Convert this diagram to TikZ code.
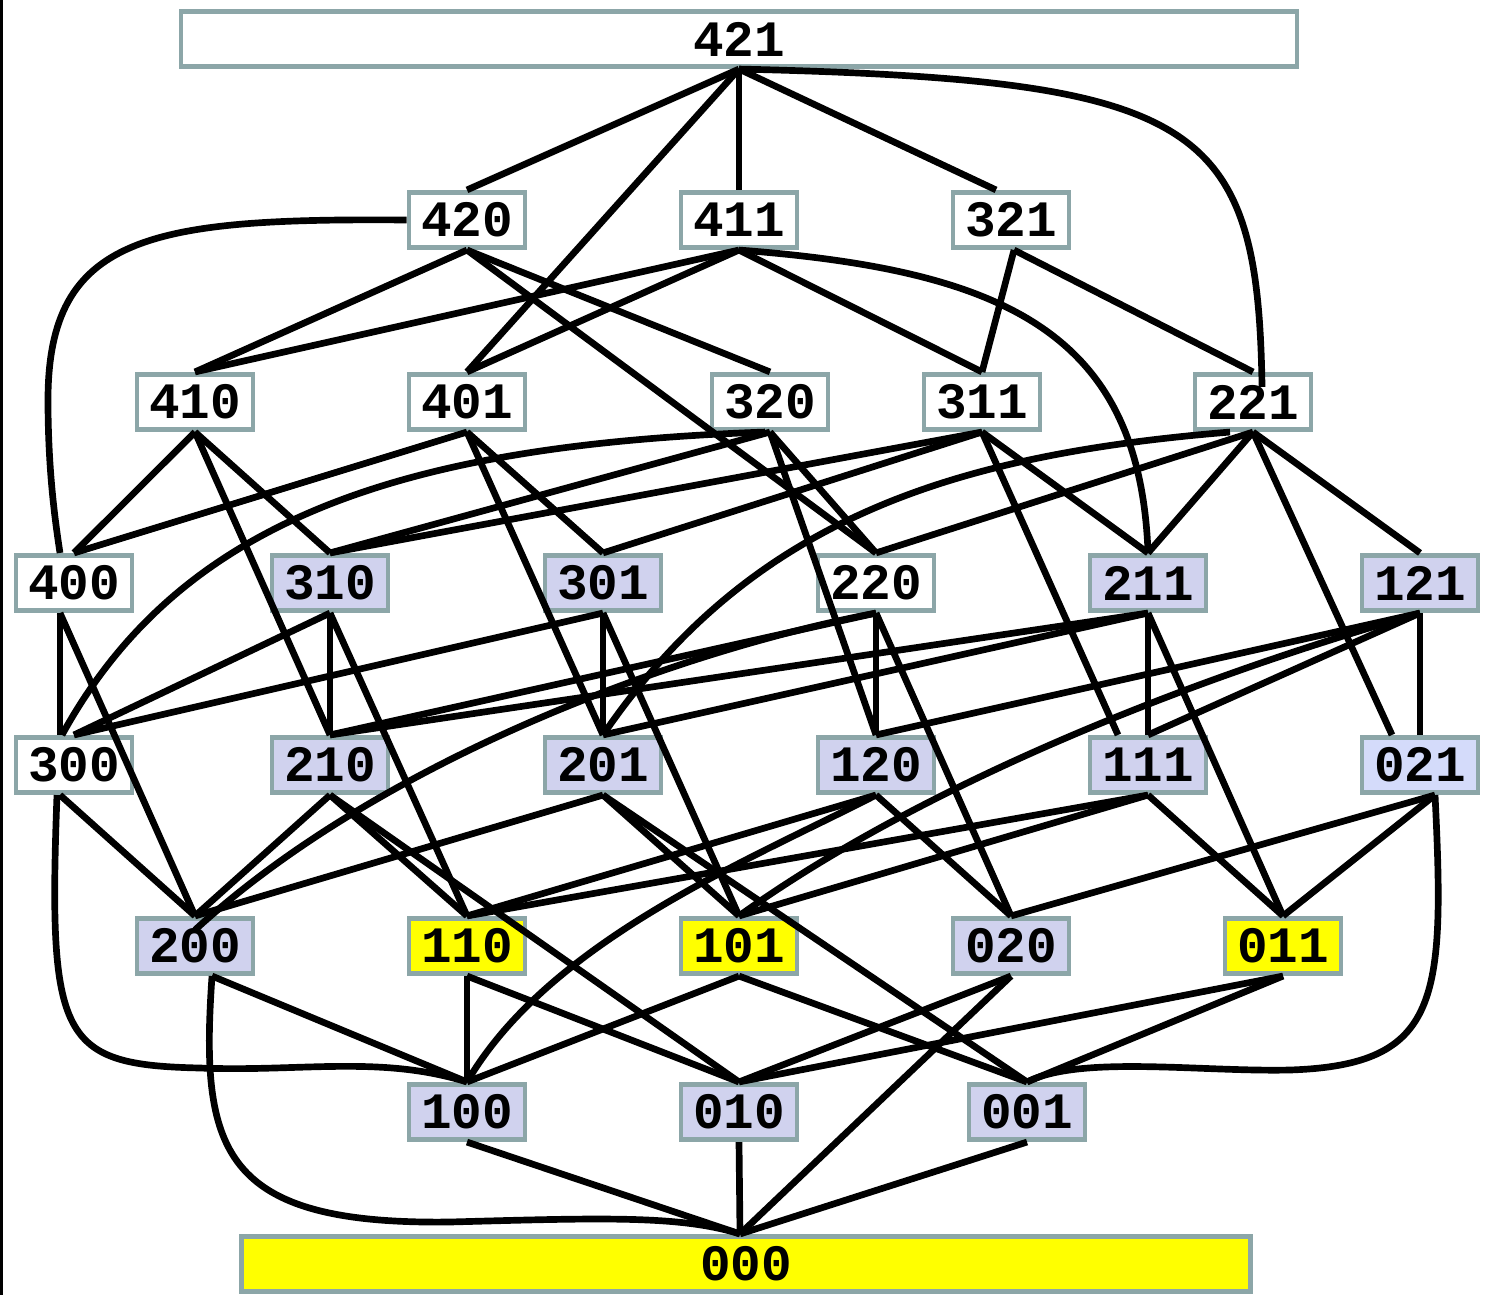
\documentclass[tikz,border=0pt]{standalone}
\usepackage{fontspec}
\usepackage{tikz}
\newfontfamily\boxfont{Liberation Mono}
\definecolor{boxline}{RGB}{140,166,168}
\definecolor{lav}{RGB}{208,210,238}
\definecolor{lavlt}{RGB}{212,219,250}
\definecolor{yel}{RGB}{255,255,0}
\tikzset{
  lat/.style={draw=boxline, line width=1.3pt, fill=white, minimum width=1.16cm,
    minimum height=0.555cm, inner sep=0pt, font=\boxfont\bfseries\fontsize{14.5}{15}\selectfont},
  lv/.style={lat, fill=lav},
  yw/.style={lat, fill=yel},
}

\begin{document}
\begin{tikzpicture}[x=0.01cm, y=-0.01cm, line width=1.9pt]
  \useasboundingbox (0,0) rectangle (1486,1295);
  \fill[black] (0,0) rectangle (3,1295);

  \node (v421) [lat, minimum width=11.15cm] at (739,39) {421};

  \node (v420) [lat] at (467,220) {420};
  \node (v411) [lat] at (739,220) {411};
  \node (v321) [lat] at (1011,220) {321};

  \node (v410) [lat] at (195,402) {410};
  \node (v401) [lat] at (467,402) {401};
  \node (v320) [lat] at (770,402) {320};
  \node (v311) [lat] at (982,402) {311};
  \node (v221) [lat] at (1253,402) {221};

  \node (v400) [lat] at (74,583) {400};
  \node (v310) [lv] at (330,583) {310};
  \node (v301) [lv] at (603,583) {301};
  \node (v220) [lat] at (876,583) {220};
  \node (v211) [lv] at (1148,583) {211};
  \node (v121) [lv] at (1420,583) {121};

  \node (v300) [lat] at (74,765) {300};
  \node (v210) [lv] at (330,765) {210};
  \node (v201) [lv] at (603,765) {201};
  \node (v120) [lv] at (876,765) {120};
  \node (v111) [lv] at (1148,765) {111};
  \node (v021) [lat, fill=lavlt] at (1420,765) {021};

  \node (v200) [lv] at (195,946) {200};
  \node (v110) [yw] at (467,946) {110};
  \node (v101) [yw] at (739,946) {101};
  \node (v020) [lv] at (1011,946) {020};
  \node (v011) [yw] at (1283,946) {011};

  \node (v100) [lv] at (467,1112) {100};
  \node (v010) [lv] at (739,1112) {010};
  \node (v001) [lv] at (1027,1112) {001};

  \node (v000) [yw, minimum width=10.08cm] at (746,1264) {000};

  \draw (v421.south) edge (v420.north) edge (v411.north) edge ([xshift=-0.15cm]v321.north) edge (v401.north);
  \draw (v421.south) .. controls (1200,80) and (1258,120) .. ([xshift=0.09cm,yshift=-0.15cm]v221.north);

  \draw (v420.west) .. controls (150,218) and (48,235) .. (48,400) .. controls (48,470) and (55,520) .. ([xshift=-0.14cm]v400.north);
  \draw (v420.south) edge (v410.north) edge (v320.north) edge (v220.north);
  \draw (v411.south) edge (v410.north) edge (v401.north) edge (v311.north);
  \draw (v411.south) .. controls (1000,270) and (1140,330) .. (v211.north);
  \draw ([xshift=0.03cm]v321.south) edge (v311.north) edge (v221.north);

  \draw (v410.south) edge (v400.north) edge (v310.north) edge (v210.north);
  \draw (v401.south) edge (v400.north) edge (v301.north) edge (v201.north);
  \draw (v320.south) edge (v310.north) edge (v220.north) edge (v120.north);
  \draw ([xshift=-0.05cm]v320.south) .. controls (400,445) and (180,520) .. ([xshift=-0.12cm]v300.north);
  \draw (v311.south) edge (v310.north) edge (v301.north) edge (v211.north) edge ([xshift=-0.3cm]v111.north);
  \draw (v221.south) edge (v220.north) edge (v211.north) edge (v121.north) edge ([xshift=-0.28cm]v021.north);
  \draw ([xshift=-0.23cm]v221.south) .. controls (950,455) and (750,520) .. (v201.north);

  \draw ([xshift=-0.14cm]v400.south) edge ([xshift=-0.14cm]v300.north) edge (v200.north);
  \draw (v310.south) edge (v300.north) edge (v210.north) edge (v110.north);
  \draw (v301.south) edge (v300.north) edge (v201.north) edge (v101.north);
  \draw (v220.south) edge (v210.north) edge (v120.north) edge (v020.north);
  \draw (v220.south) .. controls (680,650) and (380,760) .. ([yshift=-0.14cm]v200.north);
  \draw (v211.south) edge (v210.north) edge (v201.north) edge (v111.north) edge (v011.north);
  \draw (v121.south) edge (v120.north) edge (v111.north) edge (v021.north);
  \draw (v121.south) .. controls (1150,690) and (900,800) .. (v101.north);

  \draw ([xshift=-0.14cm]v300.south) edge (v200.north);
  \draw ([xshift=-0.17cm]v300.south) .. controls (48,1040) and (60,1065) .. (200,1068) .. controls (300,1072) and (380,1055) .. (v100.north);
  \draw (v210.south) edge (v200.north) edge (v110.north) edge (v010.north);
  \draw (v201.south) edge (v200.north) edge (v101.north) edge (v001.north);
  \draw (v120.south) edge (v110.north) edge (v020.north);
  \draw (v120.south) .. controls (750,860) and (550,940) .. (v100.north);
  \draw (v111.south) edge (v110.north) edge (v101.north) edge (v011.north);
  \draw ([xshift=0.15cm]v021.south) edge (v020.north) edge (v011.north);
  \draw ([xshift=0.15cm]v021.south) .. controls (1445,1000) and (1440,1065) .. (1290,1070) .. controls (1200,1072) and (1080,1055) .. (v001.north);

  \draw ([xshift=0.17cm]v200.south) edge (v100.north);
  \draw ([xshift=0.17cm]v200.south) .. controls (200,1150) and (220,1225) .. (450,1222) .. controls (600,1218) and (680,1215) .. ([xshift=-0.06cm]v000.north);
  \draw (v110.south) edge (v100.north) edge (v010.north);
  \draw (v101.south) edge (v100.north) edge (v001.north);
  \draw (v020.south) edge (v010.north) edge ([xshift=-0.06cm]v000.north);
  \draw (v011.south) edge (v010.north) edge (v001.north);

  \draw (v100.south) edge ([xshift=-0.06cm]v000.north);
  \draw (v010.south) edge ([xshift=-0.06cm]v000.north);
  \draw (v001.south) edge ([xshift=-0.06cm]v000.north);
\end{tikzpicture}
\end{document}
